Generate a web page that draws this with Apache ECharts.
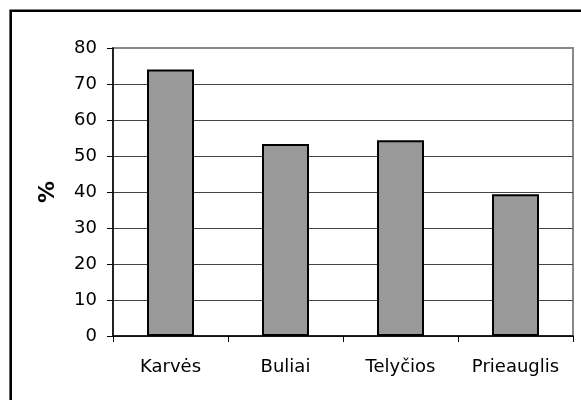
<!DOCTYPE html>
<html>
<head>
<meta charset="utf-8">
<script src="https://cdn.jsdelivr.net/npm/echarts@6/dist/echarts.min.js"></script>
<style>
html,body{margin:0;padding:0;background:#fff;}
#chart{width:581px;height:400px;}
</style>
</head>
<body>
<div id="chart"></div>
<script>
var categories = ['Karvės', 'Buliai', 'Telyčios', 'Prieauglis'];
var values = [74, 53.3, 54.4, 39.4];
var yTicks = [0, 10, 20, 30, 40, 50, 60, 70, 80];
var yAxisName = '%';

var chart = echarts.init(document.getElementById('chart'), null, {renderer: 'canvas'});
var font = 'DejaVu Sans';
var gridColors = yTicks.map(function (v, i) { return i === yTicks.length - 1 ? '#888888' : '#444444'; });

chart.setOption({
  animation: false,
  backgroundColor: '#ffffff',
  graphic: [{
    type: 'rect',
    shape: {x: 10.7, y: 10.7, width: 620, height: 440},
    style: {fill: 'none', stroke: '#000', lineWidth: 2.6},
    z: 100
  }],
  grid: {
    left: 113, right: 8, top: 48, bottom: 64,
    show: true, borderColor: '#888888', borderWidth: 2, backgroundColor: '#fff'
  },
  xAxis: {
    type: 'category',
    data: categories,
    boundaryGap: true,
    axisLine: {lineStyle: {color: '#000', width: 1.5}},
    axisTick: {show: true, length: 6, alignWithLabel: false, lineStyle: {color: '#000'}},
    axisLabel: {color: '#000', fontSize: 18, fontFamily: font, margin: 22, interval: 0},
    splitLine: {show: false}
  },
  yAxis: {
    type: 'value',
    min: yTicks[0], max: yTicks[yTicks.length - 1], interval: 10,
    name: yAxisName,
    nameLocation: 'middle',
    nameRotate: 90,
    nameGap: 54,
    nameTextStyle: {color: '#000', fontSize: 22, fontWeight: 'bold', fontFamily: font},
    axisLine: {show: true, lineStyle: {color: '#000', width: 1.5}},
    axisTick: {show: true, length: 6, inside: false, lineStyle: {color: '#000'}},
    axisLabel: {color: '#000', fontSize: 18, fontFamily: font, margin: 16},
    splitLine: {show: true, lineStyle: {color: gridColors, width: 1}}
  },
  series: [{
    type: 'bar',
    data: values,
    barWidth: 47,
    itemStyle: {color: '#999999', borderColor: '#000', borderWidth: 2}
  }]
});
</script>
</body>
</html>
